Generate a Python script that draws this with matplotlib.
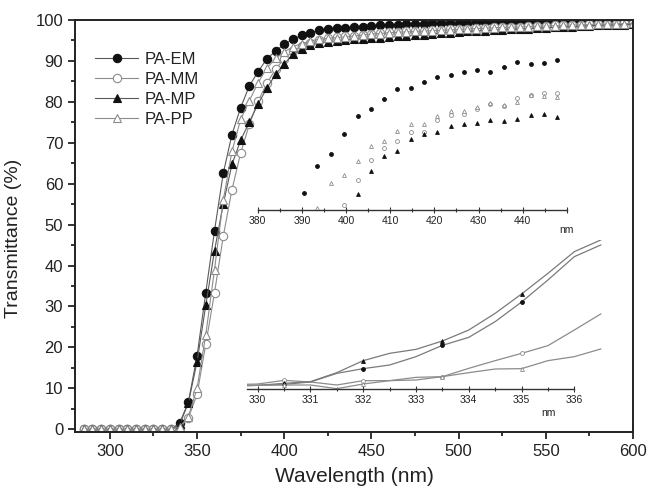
import matplotlib
matplotlib.use("Agg")
import matplotlib.pyplot as plt
from matplotlib.ticker import MultipleLocator, FixedLocator

plt.rcParams['font.family'] = ['Liberation Sans', 'DejaVu Sans']

# ---------------- main spectra (sampled every 5 nm) ----------------
wavelength = list(range(285, 605, 5))
zeros = [0.0] * 11  # 285 ... 335 nm

pa_em = zeros + [1.5, 6.6, 17.9, 33.4, 48.5, 62.5, 72.0, 78.6, 83.9, 87.4, 90.5, 92.4, 94.1,
                 95.3, 96.3, 96.9, 97.5, 97.7, 98.0, 98.1, 98.2, 98.4, 98.6, 98.7, 98.8, 98.9,
                 99.0, 99.0, 99.1, 99.2, 99.2, 99.3, 99.3, 99.3, 99.4, 99.4, 99.5, 99.5, 99.5,
                 99.5, 99.6, 99.6, 99.6, 99.6, 99.6, 99.7, 99.7, 99.7, 99.7, 99.7, 99.8, 99.8, 99.8]
pa_mm = zeros + [0.3, 2.8, 8.5, 20.8, 33.3, 47.1, 58.5, 67.5, 74.5, 80.2, 84.5, 88.0, 90.5,
                 92.4, 93.7, 94.5, 95.1, 95.5, 95.8, 96.0, 96.2, 96.4, 96.6, 96.8, 97.0, 97.1,
                 97.2, 97.3, 97.4, 97.5, 97.6, 97.7, 97.8, 97.9, 98.0, 98.1, 98.2, 98.3, 98.3,
                 98.4, 98.5, 98.6, 98.6, 98.7, 98.8, 98.8, 98.9, 99.0, 99.0, 99.1, 99.1, 99.2, 99.2]
pa_mp = zeros + [1.2, 6.4, 16.5, 30.3, 43.6, 55.0, 64.7, 70.6, 75.1, 79.5, 83.3, 86.7, 89.3,
                 91.6, 92.8, 93.9, 94.3, 94.7, 94.9, 95.1, 95.3, 95.4, 95.5, 95.7, 95.8, 96.0,
                 96.1, 96.3, 96.4, 96.6, 96.8, 96.9, 97.1, 97.2, 97.3, 97.4, 97.5, 97.6, 97.7,
                 97.8, 97.9, 98.0, 98.1, 98.2, 98.3, 98.4, 98.5, 98.6, 98.7, 98.8, 98.8, 98.9, 99.0]
pa_pp = zeros + [0.5, 3.1, 10.0, 23.1, 39.0, 55.9, 67.9, 75.7, 80.3, 84.7, 88.2, 90.6, 92.2,
                 93.5, 94.2, 94.9, 95.3, 95.5, 95.7, 95.9, 96.1, 96.3, 96.6, 96.7, 96.9, 97.0,
                 97.1, 97.2, 97.3, 97.4, 97.5, 97.6, 97.7, 97.8, 97.9, 98.0, 98.1, 98.2, 98.2,
                 98.3, 98.4, 98.5, 98.5, 98.6, 98.7, 98.8, 98.8, 98.9, 99.0, 99.0, 99.1, 99.1, 99.2]

# ---------------- upper inset: 390-450 nm detail ----------------
wl_hi = [390.5, 393.5, 396.6, 399.6, 402.6, 405.7, 408.7, 411.6, 414.6, 417.6,
         420.7, 423.7, 426.7, 429.7, 432.7, 435.8, 438.8, 441.8, 444.8, 447.8]
hi_em = [91.0, 92.64, 93.34, 94.56, 95.64, 96.04, 96.66, 97.23, 97.32, 97.65,
         97.96, 98.1, 98.28, 98.4, 98.28, 98.58, 98.88, 98.76, 98.82, 99.0]
hi_mm = [None, None, None, 90.3, 91.78, 93.02, 93.72, 94.16, 94.7, 94.7,
         95.4, 95.7, 95.77, 96.06, 96.38, 96.24, 96.7, 96.9, 97.0, 97.0]
hi_mp = [None, None, None, None, 90.94, 92.34, 93.22, 93.54, 94.26, 94.53,
         94.68, 95.05, 95.17, 95.21, 95.39, 95.33, 95.46, 95.68, 95.78, 95.6]
hi_pp = [None, 90.1, 91.6, 92.1, 92.96, 93.86, 94.12, 94.74, 95.16, 95.18,
         95.61, 95.94, 95.95, 96.18, 96.44, 96.27, 96.5, 96.9, 96.84, 96.8]

# ---------------- lower inset: absorption edge 330-336 nm ----------------
wl_lo = [329.5, 330.0, 330.5, 331.0, 331.5, 332.0, 332.5, 333.0, 333.5,
         334.0, 334.5, 335.0, 335.5, 336.0, 336.5]
lo_em = [0.06, 0.073, 0.093, 0.14, 0.313, 0.407, 0.48, 0.647, 0.873,
         1.033, 1.347, 1.74, 2.18, 2.647, 2.88]
lo_mm = [0.087, 0.1, 0.173, 0.14, 0.08, 0.167, 0.167, 0.18, 0.247,
         0.413, 0.567, 0.713, 0.867, 1.18, 1.5]
lo_mp = [0.06, 0.073, 0.113, 0.147, 0.327, 0.567, 0.713, 0.793, 0.96,
         1.18, 1.513, 1.9, 2.313, 2.747, 2.98]
lo_pp = [0.073, 0.073, 0.08, 0.08, 0.007, 0.1, 0.167, 0.233, 0.247,
         0.327, 0.4, 0.407, 0.567, 0.647, 0.8]

labels = ['PA-EM', 'PA-MM', 'PA-MP', 'PA-PP']
dark_line = '#5a5a5a'
light_line = '#8c8c8c'
styles = [
    dict(marker='o', mfc='#111111', mec='#111111', color=dark_line),
    dict(marker='o', mfc='white', mec='#8c8c8c', color=light_line),
    dict(marker='^', mfc='#111111', mec='#111111', color=dark_line),
    dict(marker='^', mfc='white', mec='#8c8c8c', color=light_line),
]
text_col = '#222222'

fig = plt.figure(figsize=(6.47, 4.91), dpi=100)
W, H = 647.0, 491.0

# ---------------- main axes ----------------
ax = fig.add_axes([75 / W, 59.3 / H, 558 / W, 411.7 / H])
for vals, lab, st in zip([pa_em, pa_mm, pa_mp, pa_pp], labels, styles):
    ax.plot(wavelength, vals, lw=0.8, ms=6, mew=0.8, label=lab, **st)

ax.set_xlim(280, 600)
ax.set_ylim(-0.6, 100)
ax.xaxis.set_major_locator(MultipleLocator(50))
ax.xaxis.set_minor_locator(MultipleLocator(25))
ax.yaxis.set_major_locator(MultipleLocator(10))
ax.yaxis.set_minor_locator(MultipleLocator(5))
ax.tick_params(which='both', direction='out', top=False, right=False,
               colors='#111111', labelcolor=text_col, width=1.2)
ax.tick_params(which='major', length=5, labelsize=12)
ax.tick_params(which='minor', length=3)
for s in ax.spines.values():
    s.set_linewidth(1.4)
    s.set_color('#222222')
ax.set_xlabel('Wavelength (nm)', fontsize=15, color=text_col, labelpad=6)
ax.set_ylabel('Transmittance (%)', fontsize=14, color=text_col)
ax.yaxis.set_label_coords(-0.095, 0.47)

leg = ax.legend(loc='upper left', bbox_to_anchor=(95 / W, 1 - 52 / H),
                bbox_transform=fig.transFigure, frameon=False, fontsize=12,
                handlelength=2.6, handletextpad=0.35, labelspacing=0.3,
                borderpad=0, borderaxespad=0)
for t in leg.get_texts():
    t.set_color(text_col)

# ---------------- upper inset ----------------
ax1 = fig.add_axes([257.7 / W, 281 / H, 309.2 / W, 160 / H])
ax1.patch.set_alpha(0)
for vals, st in zip([hi_em, hi_mm, hi_mp, hi_pp], styles):
    pts = [(x, v) for x, v in zip(wl_hi, vals) if v is not None]
    ax1.plot([p[0] for p in pts], [p[1] for p in pts], ls='none', ms=2.8, mew=0.6,
             marker=st['marker'], mfc=st['mfc'], mec=st['mec'])
ax1.set_xlim(380, 450)
ax1.set_ylim(90, 99.6)
for side in ['left', 'right', 'top']:
    ax1.spines[side].set_visible(False)
ax1.spines['bottom'].set_linewidth(1.0)
ax1.spines['bottom'].set_color('#333333')
ax1.set_yticks([])
ax1.set_xticks([380, 390, 400, 410, 420, 430, 440, 450])
ax1.set_xticklabels(['380', '390', '400', '410', '420', '430', '440', ''])
ax1.xaxis.set_minor_locator(MultipleLocator(5))
ax1.tick_params(axis='x', which='both', direction='inout', colors='#333333',
                labelcolor=text_col, labelsize=7.5, width=0.8, pad=2)
ax1.tick_params(axis='x', which='major', length=5)
ax1.tick_params(axis='x', which='minor', length=3)
fig.text(566 / W, 1 - 230 / H, 'nm', fontsize=7.5, color=text_col,
         ha='center', va='center')

# ---------------- lower inset ----------------
ax2 = fig.add_axes([247.1 / W, 102 / H, 358.9 / W, 149 / H])
ax2.patch.set_alpha(0)
for vals, st in zip([lo_em, lo_mm, lo_mp, lo_pp], styles):
    ax2.plot(wl_lo, vals, lw=0.9, color=light_line if st['color'] == light_line else '#7a7a7a',
             marker=st['marker'], mfc=st['mfc'], mec=st['mec'], ms=2.8, mew=0.6,
             markevery=[2, 5, 8, 11])
ax2.set_xlim(329.8, 336.6)
ax2.set_ylim(0, 2.98)
for side in ['left', 'right', 'top']:
    ax2.spines[side].set_visible(False)
ax2.spines['bottom'].set_bounds(329.8, 336)
ax2.spines['bottom'].set_linewidth(1.0)
ax2.spines['bottom'].set_color('#333333')
ax2.set_yticks([])
ax2.set_xticks([330, 331, 332, 333, 334, 335, 336])
ax2.xaxis.set_minor_locator(FixedLocator([330.5, 331.5, 332.5, 333.5, 334.5, 335.5]))
ax2.tick_params(axis='x', which='both', direction='inout', colors='#333333',
                labelcolor=text_col, labelsize=7.5, width=0.8, pad=2)
ax2.tick_params(axis='x', which='major', length=5)
ax2.tick_params(axis='x', which='minor', length=3)
fig.text(548 / W, 1 - 413 / H, 'nm', fontsize=7.5, color=text_col,
         ha='center', va='center')

fig.savefig('out.png', dpi=100)
